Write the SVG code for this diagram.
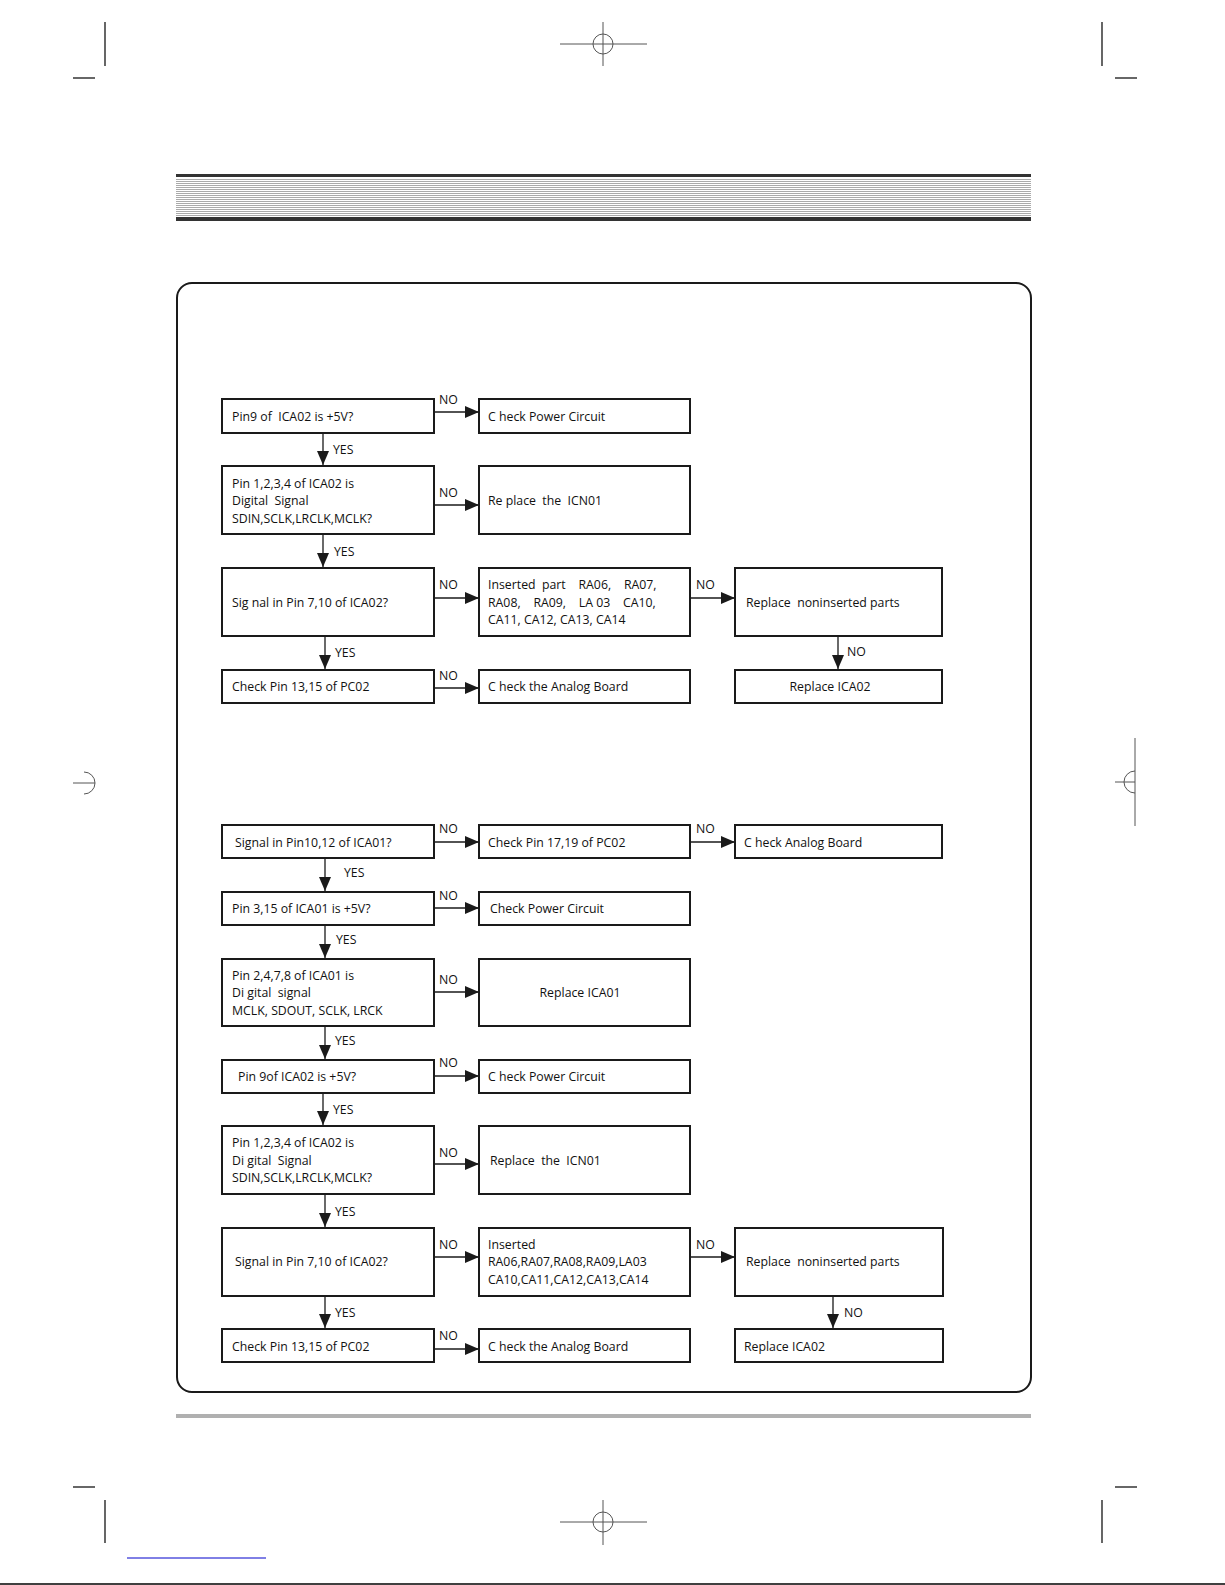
<svg xmlns="http://www.w3.org/2000/svg" width="1225" height="1585" viewBox="0 0 1225 1585">
<defs>
<style>
.box{fill:#fff;stroke:#1a1a1a;stroke-width:2}
.t{font-family:"Open Sans","Liberation Sans",sans-serif;font-size:12.3px;fill:#111;white-space:pre}
.lbl{font-family:"Open Sans","Liberation Sans",sans-serif;font-size:12.3px;fill:#111}
.c{stroke:#1a1a1a;stroke-width:1.3;fill:none;marker-end:url(#ah)}
.reg{stroke:#555;stroke-width:1;fill:none}
.crop{stroke:#000;stroke-width:1.2;fill:none}
.g{stroke:#aaa;stroke-width:1}
</style>
<marker id="ah" markerUnits="userSpaceOnUse" markerWidth="14" markerHeight="12" refX="14" refY="6" orient="auto">
<path d="M0,0 L14,6 L0,12 Z" fill="#1a1a1a"/>
</marker>
</defs>
<rect width="1225" height="1585" fill="#fff"/>
<g id="marks">
<line class="crop" x1="105" y1="22" x2="105" y2="66"/>
<line class="crop" x1="73" y1="78" x2="95" y2="78"/>
<line class="crop" x1="1102" y1="22" x2="1102" y2="66"/>
<line class="crop" x1="1115" y1="78" x2="1137" y2="78"/>
<line class="crop" x1="73" y1="1487" x2="95" y2="1487"/>
<line class="crop" x1="105" y1="1500" x2="105" y2="1543"/>
<line class="crop" x1="1115" y1="1487" x2="1137" y2="1487"/>
<line class="crop" x1="1102" y1="1500" x2="1102" y2="1543"/>
<line class="reg" x1="560" y1="44" x2="647" y2="44"/>
<line class="reg" x1="603" y1="22" x2="603" y2="66"/>
<circle class="reg" cx="603" cy="44" r="10"/>
<line class="reg" x1="560" y1="1522" x2="647" y2="1522"/>
<line class="reg" x1="603" y1="1500" x2="603" y2="1545"/>
<circle class="reg" cx="603" cy="1522" r="10"/>
<line class="reg" x1="1135" y1="738" x2="1135" y2="826"/>
<line class="reg" x1="1115" y1="782" x2="1135" y2="782"/>
<path class="reg" d="M1135,771 A11,11 0 0 0 1135,793"/>
<line class="reg" x1="73" y1="783" x2="95" y2="783"/>
<path class="reg" d="M84,772 A11,11 0 0 1 84,794"/>
<line x1="127" y1="1558" x2="266" y2="1558" stroke="#00c" stroke-width="1"/>
<line x1="0" y1="1584" x2="1225" y2="1584" stroke="#000" stroke-width="1.5"/>
</g>
<g id="header">
<rect x="176" y="174" width="855" height="3" fill="#333"/>
<line class="g" x1="176" y1="179.5" x2="1031" y2="179.5"/>
<line class="g" x1="176" y1="181.5" x2="1031" y2="181.5"/>
<line class="g" x1="176" y1="183.5" x2="1031" y2="183.5"/>
<line class="g" x1="176" y1="185.5" x2="1031" y2="185.5"/>
<line class="g" x1="176" y1="187.5" x2="1031" y2="187.5"/>
<line class="g" x1="176" y1="189.5" x2="1031" y2="189.5"/>
<line class="g" x1="176" y1="191.5" x2="1031" y2="191.5"/>
<line class="g" x1="176" y1="193.5" x2="1031" y2="193.5"/>
<line class="g" x1="176" y1="195.5" x2="1031" y2="195.5"/>
<line class="g" x1="176" y1="197.5" x2="1031" y2="197.5"/>
<line class="g" x1="176" y1="199.5" x2="1031" y2="199.5"/>
<line class="g" x1="176" y1="201.5" x2="1031" y2="201.5"/>
<line class="g" x1="176" y1="203.5" x2="1031" y2="203.5"/>
<line class="g" x1="176" y1="205.5" x2="1031" y2="205.5"/>
<line class="g" x1="176" y1="207.5" x2="1031" y2="207.5"/>
<line class="g" x1="176" y1="209.5" x2="1031" y2="209.5"/>
<line class="g" x1="176" y1="211.5" x2="1031" y2="211.5"/>
<line class="g" x1="176" y1="213.5" x2="1031" y2="213.5"/>
<line class="g" x1="176" y1="215.5" x2="1031" y2="215.5"/>
<rect x="176" y="217" width="855" height="4" fill="#333"/>
</g>
<rect id="frame" x="177" y="283" width="854" height="1109" rx="15" ry="15" fill="none" stroke="#1a1a1a" stroke-width="2"/>
<rect x="176" y="1414" width="855" height="4" fill="#b0b0b0"/>
<g id="connectors">
<line class="c" x1="434" y1="412" x2="479" y2="412"/>
<line class="c" x1="323" y1="433" x2="323" y2="465"/>
<line class="c" x1="434" y1="505" x2="479" y2="505"/>
<line class="c" x1="323" y1="534" x2="323" y2="567"/>
<line class="c" x1="434" y1="598" x2="479" y2="598"/>
<line class="c" x1="690" y1="598" x2="735" y2="598"/>
<line class="c" x1="838" y1="636" x2="838" y2="669"/>
<line class="c" x1="325" y1="636" x2="325" y2="669"/>
<line class="c" x1="434" y1="688" x2="479" y2="688"/>
<line class="c" x1="434" y1="842" x2="479" y2="842"/>
<line class="c" x1="690" y1="842" x2="735" y2="842"/>
<line class="c" x1="325" y1="858" x2="325" y2="891"/>
<line class="c" x1="434" y1="908" x2="479" y2="908"/>
<line class="c" x1="325" y1="925" x2="325" y2="958"/>
<line class="c" x1="434" y1="992" x2="479" y2="992"/>
<line class="c" x1="325" y1="1026" x2="325" y2="1059"/>
<line class="c" x1="434" y1="1076" x2="479" y2="1076"/>
<line class="c" x1="323" y1="1093" x2="323" y2="1125"/>
<line class="c" x1="434" y1="1164" x2="479" y2="1164"/>
<line class="c" x1="325" y1="1194" x2="325" y2="1227"/>
<line class="c" x1="434" y1="1257" x2="479" y2="1257"/>
<line class="c" x1="690" y1="1257" x2="735" y2="1257"/>
<line class="c" x1="833" y1="1296" x2="833" y2="1328"/>
<line class="c" x1="325" y1="1296" x2="325" y2="1328"/>
<line class="c" x1="434" y1="1349" x2="479" y2="1349"/>
<text class="lbl" x="439" y="404">NO</text>
<text class="lbl" x="333" y="454">YES</text>
<text class="lbl" x="439" y="497">NO</text>
<text class="lbl" x="334" y="556">YES</text>
<text class="lbl" x="439" y="589">NO</text>
<text class="lbl" x="696" y="589">NO</text>
<text class="lbl" x="847" y="656">NO</text>
<text class="lbl" x="335" y="657">YES</text>
<text class="lbl" x="439" y="680">NO</text>
<text class="lbl" x="439" y="833">NO</text>
<text class="lbl" x="696" y="833">NO</text>
<text class="lbl" x="344" y="877">YES</text>
<text class="lbl" x="439" y="900">NO</text>
<text class="lbl" x="336" y="944">YES</text>
<text class="lbl" x="439" y="984">NO</text>
<text class="lbl" x="335" y="1045">YES</text>
<text class="lbl" x="439" y="1067">NO</text>
<text class="lbl" x="333" y="1114">YES</text>
<text class="lbl" x="439" y="1157">NO</text>
<text class="lbl" x="335" y="1216">YES</text>
<text class="lbl" x="439" y="1249">NO</text>
<text class="lbl" x="696" y="1249">NO</text>
<text class="lbl" x="844" y="1317">NO</text>
<text class="lbl" x="335" y="1317">YES</text>
<text class="lbl" x="439" y="1340">NO</text>
</g>
<g id="n1a"><rect class="box" x="222" y="399" width="212" height="34"/><text class="t" x="232" y="421">Pin9 of  ICA02 is +5V?</text></g>
<g id="n1b"><rect class="box" x="479" y="399" width="211" height="34"/><text class="t" x="488" y="421">C heck Power Circuit</text></g>
<g id="n2a"><rect class="box" x="222" y="466" width="212" height="68"/><text class="t" x="232" y="488">Pin 1,2,3,4 of ICA02 is</text><text class="t" x="232" y="505">Digital  Signal</text><text class="t" x="232" y="523">SDIN,SCLK,LRCLK,MCLK?</text></g>
<g id="n2b"><rect class="box" x="479" y="466" width="211" height="68"/><text class="t" x="488" y="505">Re place  the  ICN01</text></g>
<g id="n3a"><rect class="box" x="222" y="568" width="212" height="68"/><text class="t" x="232" y="607">Sig nal in Pin 7,10 of ICA02?</text></g>
<g id="n3b"><rect class="box" x="479" y="568" width="211" height="68"/><text class="t" x="488" y="589">Inserted  part    RA06,    RA07,</text><text class="t" x="488" y="607">RA08,    RA09,    LA 03    CA10,</text><text class="t" x="488" y="624">CA11, CA12, CA13, CA14</text></g>
<g id="n3c"><rect class="box" x="735" y="568" width="207" height="68"/><text class="t" x="746" y="607">Replace  noninserted parts</text></g>
<g id="n4a"><rect class="box" x="222" y="670" width="212" height="33"/><text class="t" x="232" y="691">Check Pin 13,15 of PC02</text></g>
<g id="n4b"><rect class="box" x="479" y="670" width="211" height="33"/><text class="t" x="488" y="691">C heck the Analog Board</text></g>
<g id="n4c"><rect class="box" x="735" y="670" width="207" height="33"/><text class="t" x="830" y="691" text-anchor="middle">Replace ICA02</text></g>
<g id="m1a"><rect class="box" x="222" y="825" width="212" height="33"/><text class="t" x="235" y="847">Signal in Pin10,12 of ICA01?</text></g>
<g id="m1b"><rect class="box" x="479" y="825" width="211" height="33"/><text class="t" x="488" y="847">Check Pin 17,19 of PC02</text></g>
<g id="m1c"><rect class="box" x="735" y="825" width="207" height="33"/><text class="t" x="744" y="847">C heck Analog Board</text></g>
<g id="m2a"><rect class="box" x="222" y="892" width="212" height="33"/><text class="t" x="232" y="913">Pin 3,15 of ICA01 is +5V?</text></g>
<g id="m2b"><rect class="box" x="479" y="892" width="211" height="33"/><text class="t" x="490" y="913">Check Power Circuit</text></g>
<g id="m3a"><rect class="box" x="222" y="959" width="212" height="67"/><text class="t" x="232" y="980">Pin 2,4,7,8 of ICA01 is</text><text class="t" x="232" y="997">Di gital  signal</text><text class="t" x="232" y="1015">MCLK, SDOUT, SCLK, LRCK</text></g>
<g id="m3b"><rect class="box" x="479" y="959" width="211" height="67"/><text class="t" x="580" y="997" text-anchor="middle">Replace ICA01</text></g>
<g id="m4a"><rect class="box" x="222" y="1060" width="212" height="33"/><text class="t" x="238" y="1081">Pin 9of ICA02 is +5V?</text></g>
<g id="m4b"><rect class="box" x="479" y="1060" width="211" height="33"/><text class="t" x="488" y="1081">C heck Power Circuit</text></g>
<g id="m5a"><rect class="box" x="222" y="1126" width="212" height="68"/><text class="t" x="232" y="1147">Pin 1,2,3,4 of ICA02 is</text><text class="t" x="232" y="1165">Di gital  Signal</text><text class="t" x="232" y="1182">SDIN,SCLK,LRCLK,MCLK?</text></g>
<g id="m5b"><rect class="box" x="479" y="1126" width="211" height="68"/><text class="t" x="490" y="1165">Replace  the  ICN01</text></g>
<g id="m6a"><rect class="box" x="222" y="1228" width="212" height="68"/><text class="t" x="235" y="1266">Signal in Pin 7,10 of ICA02?</text></g>
<g id="m6b"><rect class="box" x="479" y="1228" width="211" height="68"/><text class="t" x="488" y="1249">Inserted</text><text class="t" x="488" y="1266">RA06,RA07,RA08,RA09,LA03</text><text class="t" x="488" y="1284">CA10,CA11,CA12,CA13,CA14</text></g>
<g id="m6c"><rect class="box" x="735" y="1228" width="208" height="68"/><text class="t" x="746" y="1266">Replace  noninserted parts</text></g>
<g id="m7a"><rect class="box" x="222" y="1329" width="212" height="33"/><text class="t" x="232" y="1351">Check Pin 13,15 of PC02</text></g>
<g id="m7b"><rect class="box" x="479" y="1329" width="211" height="33"/><text class="t" x="488" y="1351">C heck the Analog Board</text></g>
<g id="m7c"><rect class="box" x="735" y="1329" width="208" height="33"/><text class="t" x="744" y="1351">Replace ICA02</text></g>
</svg>
